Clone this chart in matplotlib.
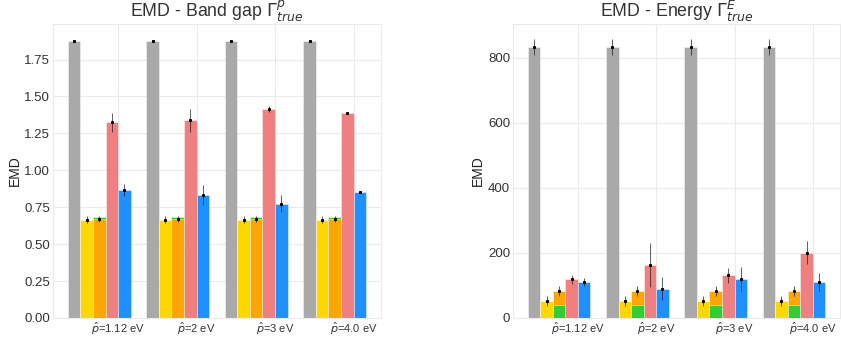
import numpy as np
import matplotlib
matplotlib.use("Agg")
import matplotlib.pyplot as plt

plt.rcParams['font.family'] = ['Liberation Sans', 'DejaVu Sans']
plt.rcParams['mathtext.fontset'] = 'dejavusans'

groups = ["$\\hat{p}$=1.12 eV", "$\\hat{p}$=2 eV", "$\\hat{p}$=3 eV", "$\\hat{p}$=4.0 eV"]
colors = {"gray": "#A9A9A9", "yellow": "#FFD700", "green": "#32CD32",
          "orange": "#FFA500", "salmon": "#F08080", "blue": "#1E90FF"}

# band gap panel
bg_gray = [1.877, 1.877, 1.877, 1.877]
bg_gray_err = [0.005, 0.005, 0.005, 0.005]
bg_yellow = [0.665, 0.665, 0.665, 0.665]
bg_yellow_err = [0.025, 0.025, 0.025, 0.025]
bg_green = [0.683, 0.683, 0.683, 0.683]
bg_orange = [0.668, 0.668, 0.668, 0.668]
bg_orange_err = [0.02, 0.02, 0.02, 0.02]
bg_salmon = [1.325, 1.338, 1.418, 1.391]
bg_salmon_err = [0.066, 0.076, 0.02, 0.005]
bg_blue = [0.866, 0.832, 0.775, 0.853]
bg_blue_err = [0.04, 0.065, 0.055, 0.005]

# energy panel
en_gray = [833, 833, 833, 833]
en_gray_err = [24, 24, 24, 24]
en_yellow = [52, 52, 52, 52]
en_yellow_err = [15, 15, 15, 15]
en_green = [41, 41, 41, 41]
en_orange = [83, 83, 83, 83]
en_orange_err = [16, 16, 16, 16]
en_salmon = [119, 163, 131, 201]
en_salmon_err = [14, 68, 22, 35]
en_blue = [111, 90, 120, 111]
en_blue_err = [12, 35, 37, 27]

fig = plt.figure(figsize=(8.41, 3.39), dpi=100)
ax1 = fig.add_axes([0.063, 0.062, 0.390, 0.867])
ax2 = fig.add_axes([0.610, 0.062, 0.389, 0.867])

w = 0.16
x = np.arange(len(groups))


def draw(ax, gray, gray_e, yellow, yellow_e, green, orange, orange_e,
         salmon, salmon_e, blue, blue_e, green_on_top, title):
    kw = dict(width=w, edgecolor=(1, 1, 1, 0.5), linewidth=0.6)
    ax.bar(x - 3.5 * w, gray, color=colors["gray"], zorder=2, **kw)
    ax.bar(x - 2.5 * w, yellow, color=colors["yellow"], zorder=2, **kw)
    gz, oz = (3, 2) if green_on_top else (2, 3)
    ax.bar(x - 1.5 * w, green, color=colors["green"], zorder=gz, **kw)
    ax.bar(x - 1.5 * w, orange, color=colors["orange"], zorder=oz, **kw)
    ax.bar(x - 0.5 * w, salmon, color=colors["salmon"], zorder=2, **kw)
    ax.bar(x + 0.5 * w, blue, color=colors["blue"], zorder=2, **kw)
    ekw = dict(fmt='s', ms=1.2, color='black', ecolor=(0.1, 0.1, 0.1, 0.7),
               elinewidth=0.7, capsize=0, zorder=5)
    ax.errorbar(x - 3.5 * w, gray, yerr=gray_e, **ekw)
    ax.errorbar(x - 2.5 * w, yellow, yerr=yellow_e, **ekw)
    ax.errorbar(x - 1.5 * w, orange, yerr=orange_e, **ekw)
    ax.errorbar(x - 0.5 * w, salmon, yerr=salmon_e, **ekw)
    ax.errorbar(x + 0.5 * w, blue, yerr=blue_e, **ekw)
    ax.set_xticks(x)
    ax.set_xticklabels(groups, fontsize=8, color='#333333')
    ax.tick_params(axis='y', labelsize=9.5, colors='#333333', length=0, pad=2)
    ax.tick_params(axis='x', length=0, pad=2)
    ax.grid(True, color='#EBEBEB', linewidth=0.8, zorder=0)
    ax.set_axisbelow(True)
    for s in ax.spines.values():
        s.set_color('#EBEBEB')
        s.set_linewidth(0.8)
    ax.set_ylabel("EMD", fontsize=10, color='#222222', labelpad=2)
    ax.set_title(title, fontsize=12.8, color='#333333', pad=2)


draw(ax1, bg_gray, bg_gray_err, bg_yellow, bg_yellow_err, bg_green, bg_orange,
     bg_orange_err, bg_salmon, bg_salmon_err, bg_blue, bg_blue_err, False,
     "EMD - Band gap $\\Gamma^{p}_{true}$")
ax1.set_ylim(0, 1.99)
ax1.set_yticks(np.arange(0, 1.76, 0.25))
ax1.set_yticklabels(["%.2f" % v for v in np.arange(0, 1.76, 0.25)])

draw(ax2, en_gray, en_gray_err, en_yellow, en_yellow_err, en_green, en_orange,
     en_orange_err, en_salmon, en_salmon_err, en_blue, en_blue_err, True,
     "EMD - Energy $\\Gamma^{E}_{true}$")
ax2.set_ylim(0, 903)
ax2.set_yticks([0, 200, 400, 600, 800])

fig.savefig("out.png", dpi=100)
